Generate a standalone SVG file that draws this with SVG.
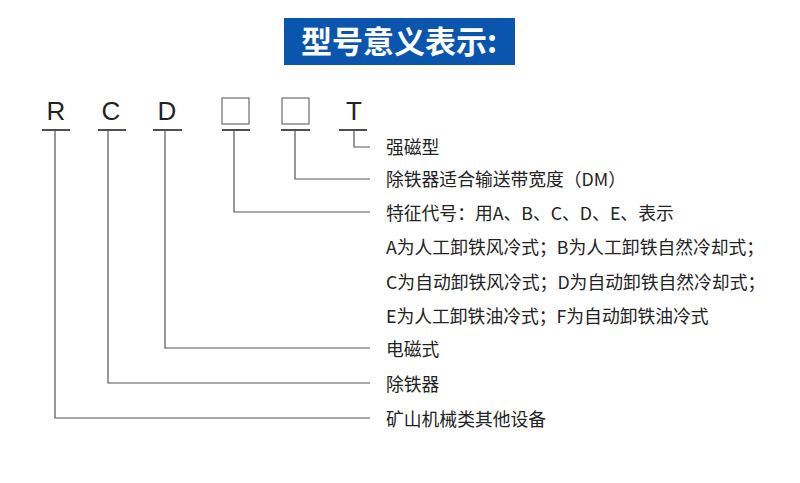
<svg xmlns="http://www.w3.org/2000/svg" width="800" height="483" viewBox="0 0 800 483">
<style>
.l{stroke:#555;stroke-width:1.2;fill:none}
.u{stroke:#222;stroke-width:1.6}
.c{font-family:"Liberation Sans",Arial,sans-serif;font-size:26px;fill:#222;text-anchor:middle}
.t{font-family:"Noto Sans CJK SC",sans-serif;font-size:17.8px;fill:#222}
.b{fill:none;stroke:#777;stroke-width:1.3}
</style>
<rect width="800" height="483" fill="#fff"/>
<g id="title"><rect x="284" y="18" width="231" height="47" fill="#0a55ae"/>
<text x="399" y="53" text-anchor="middle" font-family="Noto Sans CJK SC,sans-serif" font-size="31" font-weight="bold" fill="#fff">型号意义表示:</text></g>
<g id="R"><text class="c" x="56" y="120">R</text><line class="u" x1="42" y1="130" x2="70" y2="130"/></g>
<g id="C"><text class="c" x="111" y="120">C</text><line class="u" x1="98" y1="130" x2="126" y2="130"/></g>
<g id="D"><text class="c" x="167" y="120">D</text><line class="u" x1="153" y1="130" x2="182" y2="130"/></g>
<g id="box1"><rect class="b" x="222" y="98" width="27" height="26"/><line class="u" x1="222" y1="130" x2="250" y2="130"/></g>
<g id="box2"><rect class="b" x="282" y="98" width="27" height="26"/><line class="u" x1="281" y1="130" x2="310" y2="130"/></g>
<g id="T"><text class="c" x="354" y="120">T</text><line class="u" x1="339" y1="130" x2="367" y2="130"/></g>
<g id="connectors">
<polyline class="l" points="354,130 354,147 370,147"/>
<polyline class="l" points="295,130 295,179 370,179"/>
<polyline class="l" points="234,130 234,212 370,212"/>
<polyline class="l" points="165,130 165,348 370,348"/>
<polyline class="l" points="108,130 108,383 370,383"/>
<polyline class="l" points="55,130 55,418 370,418"/>
</g>
<g id="labels">
<text class="t" x="386" y="154">强磁型</text>
<text class="t" x="386" y="186">除铁器适合输送带宽度（DM）</text>
<text class="t" x="386" y="220">特征代号：用A、B、C、D、E、表示</text>
<text class="t" x="386" y="254">A为人工卸铁风冷式；B为人工卸铁自然冷却式；</text>
<text class="t" x="386" y="289">C为自动卸铁风冷式；D为自动卸铁自然冷却式；</text>
<text class="t" x="386" y="323">E为人工卸铁油冷式；F为自动卸铁油冷式</text>
<text class="t" x="386" y="356">电磁式</text>
<text class="t" x="386" y="391">除铁器</text>
<text class="t" x="386" y="426">矿山机械类其他设备</text>
</g>
</svg>
